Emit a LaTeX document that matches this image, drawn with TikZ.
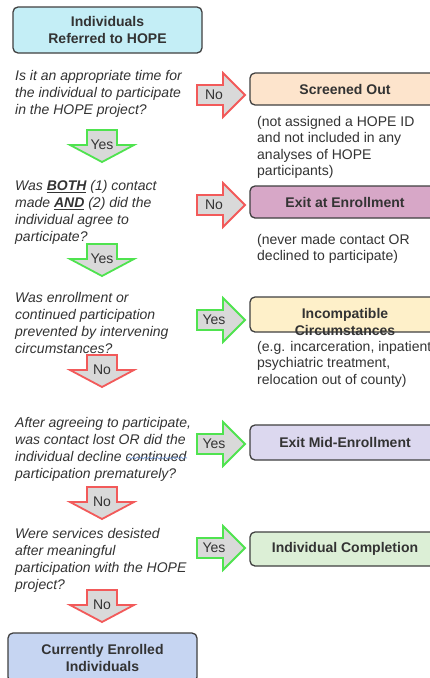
\documentclass[tikz,border=0pt]{standalone}
\usepackage{fontspec}
\setmainfont{Liberation Sans}
\usetikzlibrary{decorations.pathmorphing}
\definecolor{topfill}{HTML}{C4EEF6}
\definecolor{scrfill}{HTML}{FDE4CC}
\definecolor{enrfill}{HTML}{D7A7C7}
\definecolor{incfill}{HTML}{FEF0C9}
\definecolor{midfill}{HTML}{DCD8EF}
\definecolor{cmpfill}{HTML}{DCEFD6}
\definecolor{curfill}{HTML}{C6D5F2}
\definecolor{bordc}{HTML}{404040}
\definecolor{txtc}{HTML}{333333}
\definecolor{arrfill}{HTML}{D9D9D9}
\definecolor{redc}{HTML}{F25A5A}
\definecolor{grnc}{HTML}{4FE34F}
\definecolor{spellc}{HTML}{6A8FD0}
\newcommand\RArr[5]{%
  \draw[barrow,draw=#3] (#1,#2-10) -- (#1+26,#2-10) -- (#1+26,#2-22) -- (#1+48,#2)
    -- (#1+26,#2+22) -- (#1+26,#2+10) -- (#1,#2+10) -- cycle;
  \node[albl] (#5) at (#1+17,#2) {#4};}
\newcommand\DArr[5]{%
  \draw[barrow,draw=#3] (#1-15,#2) -- (#1+15,#2) -- (#1+15,#2+15) -- (#1+32,#2+15)
    -- (#1,#2+32) -- (#1-32,#2+15) -- (#1-15,#2+15) -- cycle;
  \node[albl] (#5) at (#1,#2+15) {#4};}
\begin{document}
\begin{tikzpicture}[x=1pt,y=-1pt,
  barrow/.style={fill=arrfill,line width=1.8pt,line join=miter},
  albl/.style={inner sep=0pt,text=txtc,font=\fontsize{14}{17}\selectfont},
  rbox/.style={draw=bordc,line width=1.3pt,rounded corners=5pt,inner sep=0pt,
    text=txtc,font=\fontsize{14}{17}\selectfont\bfseries,align=center},
  qtext/.style={anchor=north west,inner sep=0pt,align=left,text=txtc,
    font=\fontsize{14}{17}\selectfont\itshape},
  dtext/.style={anchor=north west,inner sep=0pt,align=left,text=txtc,
    font=\fontsize{14}{16.5}\selectfont},
  btext/.style={inner sep=0pt,align=center,text=txtc,
    font=\fontsize{14}{17}\selectfont\bfseries}]
\clip (0,0) rectangle (430,678);
\fill[white] (0,0) rectangle (430,678);

% left column boxes
\node[rbox,fill=topfill,minimum width=189pt,minimum height=46pt] (top) at (107.5,30) {Individuals\\Referred to HOPE};
\node[rbox,fill=curfill,minimum width=189pt,minimum height=49pt] (cur) at (102.5,657.5) {Currently Enrolled\\Individuals};

% questions
\node[qtext] (q1) at (15,70) {Is it an appropriate time for\\the individual to participate\\in the HOPE project?};
\node[qtext] (q2) at (15,180) {Was \textbf{\underline{BOTH}} (1) contact\\made \textbf{\underline{AND}} (2) did the\\individual agree to\\participate?};
\node[qtext] (q3) at (15,292) {Was enrollment or\\continued participation\\prevented by intervening\\circumstances?};
\node[qtext] (q4) at (15,417) {After agreeing to participate,\\was contact lost OR did the\\individual decline continued\\participation prematurely?};
\node[qtext] (q5) at (15,528) {Were services desisted\\after meaningful\\participation with the HOPE\\project?};
\draw[spellc,line width=0.6pt,decorate,decoration={snake,amplitude=0.9pt,segment length=4pt}] (128,458) -- (187,458);

% down arrows
\DArr{102}{130}{grnc}{Yes}{y1}
\DArr{102}{244}{grnc}{Yes}{y2}
\DArr{102}{355}{redc}{No}{n3}
\DArr{102}{487}{redc}{No}{n4}
\DArr{102}{590}{redc}{No}{n5}

% right arrows
\RArr{197}{95}{redc}{No}{r1}
\RArr{197}{205}{redc}{No}{r2}
\RArr{197}{320}{grnc}{Yes}{r3}
\RArr{197}{444}{grnc}{Yes}{r4}
\RArr{197}{548}{grnc}{Yes}{r5}

% right column boxes
\node[rbox,fill=scrfill,minimum width=190pt,minimum height=32pt] (scr) at (345,89) {Screened Out};
\node[rbox,fill=enrfill,minimum width=190pt,minimum height=32pt] (enr) at (345,202) {Exit at Enrollment};
\node[rbox,fill=incfill,minimum width=190pt,minimum height=35pt] (inc) at (345,314.5) {};
\node[btext] (inct) at (345,321.5) {Incompatible\\Circumstances};
\node[rbox,fill=midfill,minimum width=190pt,minimum height=35pt] (mid) at (345,442.5) {Exit Mid-Enrollment};
\node[rbox,fill=cmpfill,minimum width=190pt,minimum height=34pt] (cmp) at (345,549) {Individual Completion};

% descriptions
\node[dtext] (d1) at (257,116) {(not assigned a HOPE ID\\and not included in any\\analyses of HOPE\\participants)};
\node[dtext] (d2) at (257,234) {(never made contact OR\\declined to participate)};
\node[dtext] (d3) at (257,341) {(e.g. incarceration, inpatient\\psychiatric treatment,\\relocation out of county)};
\end{tikzpicture}
\end{document}
